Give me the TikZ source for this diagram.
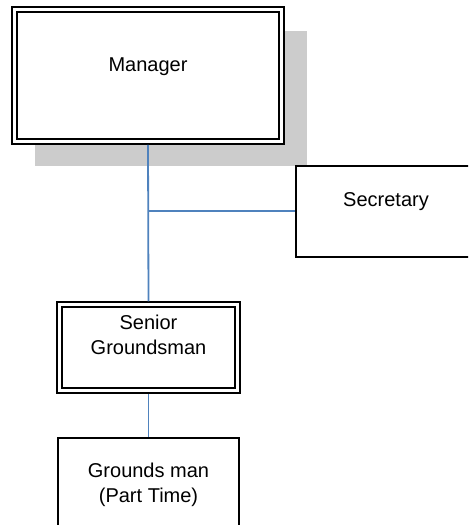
\documentclass[tikz,border=0pt]{standalone}
\usepackage{fontspec}
\setmainfont{Liberation Sans}
\usetikzlibrary{shadows}

\begin{document}
\begin{tikzpicture}[x=0.5pt,y=-0.5pt,line width=1pt,font=\fontsize{10}{12.5}\selectfont]
		\definecolor{linkblue}{rgb}{0.31,0.51,0.74}
		\definecolor{shadowgray}{rgb}{0.8,0.8,0.8}
		\tikzset{
			box/.style={draw=black,line width=1pt,fill=white,inner sep=0pt},
			dbox/.style={box,line width=0.75pt,double=white,double distance=1.75pt,outer sep=1.625pt},
			link/.style={draw=linkblue,line width=0.9pt},
			every label/.style={align=center}
		}
		%Rahmen
		\useasboundingbox (0,0) rectangle (468,525);
		\clip (0,0) rectangle (468,525);
		
		%Manager mit Schatten
		\node[dbox,minimum width=133.5pt,minimum height=66pt,
			drop shadow={shadow xshift=11.25pt,shadow yshift=-11.25pt,shadow scale=1.02,fill=shadowgray,opacity=1},
			label={[yshift=4.5pt]center:Manager}] (mgr) at (148,75.5) {};
		
		%Sekretariat
		\node[box,minimum width=90pt,minimum height=45.5pt,
			label={[yshift=4.5pt]center:Secretary}] (sec) at (386,211) {};
		
		%Platzwarte
		\node[dbox,minimum width=89pt,minimum height=43pt,
			label={[yshift=6.5pt]center:Senior\\Groundsman}] (sen) at (148.5,347.5) {};
		\node[box,minimum width=90.5pt,minimum height=57pt,
			label={[yshift=5pt]center:Grounds man\\(Part Time)}] (gm) at (148.5,495) {};
		
		%Linien
		\coordinate (jn) at (mgr.south |- sec.west);
		\draw[link] (mgr.south) -- (sen.north);
		\draw[link] (jn) -- (sec.west);
		\draw[link] (sen.south) -- (gm.north);
	\end{tikzpicture}
\end{document}
